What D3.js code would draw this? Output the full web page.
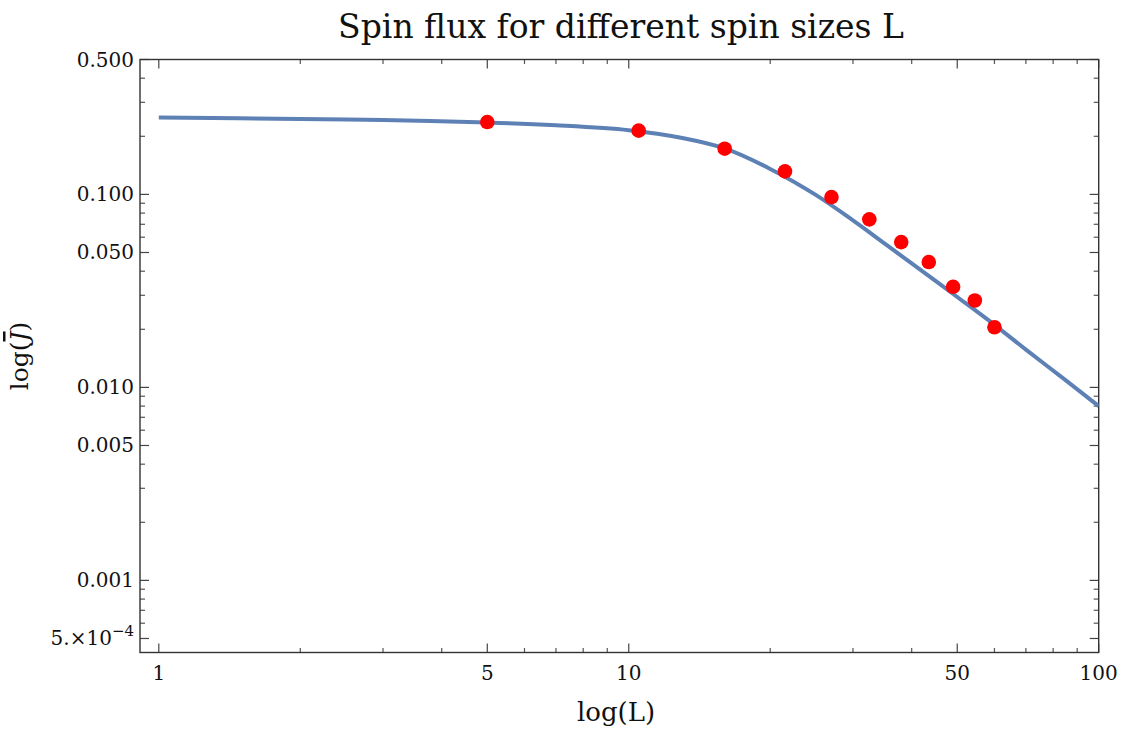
<!DOCTYPE html>
<html>
<head>
<meta charset="utf-8">
<script src="https://cdn.jsdelivr.net/npm/d3@7"></script>
<style>
  html, body { margin: 0; padding: 0; background: #fff; }
  svg { display: block; }
  text { font-family: "DejaVu Serif", serif; fill: #111; }
</style>
</head>
<body>
<svg id="chart" width="1124" height="733"></svg>
<script>
// Fitted flux curve J(L)
const curveL = [1, 2, 3, 5, 7, 10, 13, 16, 20, 25, 30, 35, 40, 50, 60, 70, 85, 100];
const curveJ = [0.250, 0.246, 0.243, 0.236, 0.228, 0.215, 0.196, 0.173, 0.1355, 0.0994,
                0.0733, 0.0557, 0.0439, 0.0294, 0.0211, 0.0157, 0.0109, 0.0080];

// Measured flux for each spin size
const pointL = [5, 10.5, 16, 21.5, 27, 32.5, 38, 43.5, 49, 54.5, 60];
const pointJ = [0.237, 0.214, 0.1725, 0.1316, 0.0968, 0.0742, 0.0566, 0.0446, 0.0332, 0.0282, 0.0205];

// Axis ticks
const xMajor = [1, 5, 10, 50, 100];
const xMajorLabels = ["1", "5", "10", "50", "100"];
const xMinor = [2, 3, 4, 6, 7, 8, 9, 20, 30, 40, 60, 70, 80, 90];
const yMajor = [0.5, 0.1, 0.05, 0.01, 0.005, 0.001, 0.0005];
const yMajorLabels = ["0.500", "0.100", "0.050", "0.010", "0.005", "0.001", "5.×10^−4"];
const yMinor = [0.4, 0.3, 0.2, 0.09, 0.08, 0.07, 0.06, 0.04, 0.03, 0.02,
                0.009, 0.008, 0.007, 0.006, 0.004, 0.003, 0.002,
                0.0009, 0.0008, 0.0007, 0.0006];

const titleText = "Spin flux for different spin sizes L";

const svg = d3.select("#chart");
const plotLeft = 140, plotRight = 1098.7, plotTop = 59.5, plotBottom = 652.5;

const x = d3.scaleLog().domain([0.912, 100]).range([plotLeft, plotRight]);
const y = d3.scaleLog().domain([4.23e-4, 0.5]).range([plotBottom, plotTop]);

// Title
svg.append("text")
  .attr("x", 621).attr("y", 38)
  .attr("text-anchor", "middle")
  .style("font-size", "33px")
  .text(titleText);

// Ticks on all four sides, pointing inward
const tickG = svg.append("g");
function xTicks(vals, len, color) {
  vals.forEach(v => {
    const px = x(v);
    tickG.append("line").attr("x1", px).attr("x2", px)
      .attr("y1", plotBottom).attr("y2", plotBottom - len)
      .attr("stroke", color).attr("stroke-width", 1.2);
    tickG.append("line").attr("x1", px).attr("x2", px)
      .attr("y1", plotTop).attr("y2", plotTop + len)
      .attr("stroke", color).attr("stroke-width", 1.2);
  });
}
function yTicks(vals, len, color) {
  vals.forEach(v => {
    const py = y(v);
    tickG.append("line").attr("x1", plotLeft).attr("x2", plotLeft + len)
      .attr("y1", py).attr("y2", py)
      .attr("stroke", color).attr("stroke-width", 1.2);
    tickG.append("line").attr("x1", plotRight).attr("x2", plotRight - len)
      .attr("y1", py).attr("y2", py)
      .attr("stroke", color).attr("stroke-width", 1.2);
  });
}
xTicks(xMajor, 9, "#444");
xTicks(xMinor, 4.5, "#555");
yTicks(yMajor, 9, "#444");
yTicks(yMinor, 5, "#555");

// Frame
svg.append("rect")
  .attr("x", plotLeft).attr("y", plotTop)
  .attr("width", plotRight - plotLeft).attr("height", plotBottom - plotTop)
  .attr("fill", "none").attr("stroke", "#333").attr("stroke-width", 1.4);

// X tick labels
svg.append("g").selectAll("text").data(xMajor).join("text")
  .attr("x", d => x(d)).attr("y", plotBottom + 27)
  .attr("text-anchor", "middle")
  .style("font-size", "20px")
  .text((d, i) => xMajorLabels[i]);

// Y tick labels (with superscript exponent where needed)
svg.append("g").selectAll("text").data(yMajor).join("text")
  .attr("x", plotLeft - 6).attr("y", d => y(d) + 7)
  .attr("text-anchor", "end")
  .style("font-size", "20px")
  .each(function (d, i) {
    const parts = yMajorLabels[i].split("^");
    const t = d3.select(this);
    t.append("tspan").text(parts[0]);
    if (parts[1]) {
      t.append("tspan").attr("dy", -9).style("font-size", "15px").text(parts[1]);
    }
  });

// Axis titles
svg.append("text")
  .attr("x", 616).attr("y", 721)
  .attr("text-anchor", "middle")
  .style("font-size", "26px")
  .text("log(L)");

const yl = svg.append("text")
  .attr("transform", "translate(28,356) rotate(-90)")
  .attr("text-anchor", "middle")
  .style("font-size", "25px");
yl.append("tspan").text("log(");
yl.append("tspan").style("font-style", "italic")
  .style("text-decoration", "overline").text("J");
yl.append("tspan").text(")");

// Clip for data marks
svg.append("clipPath").attr("id", "plotClip")
  .append("rect").attr("x", plotLeft).attr("y", plotTop)
  .attr("width", plotRight - plotLeft).attr("height", plotBottom - plotTop);

const plot = svg.append("g").attr("clip-path", "url(#plotClip)");

const line = d3.line()
  .x(d => x(d[0]))
  .y(d => y(d[1]))
  .curve(d3.curveCatmullRom.alpha(0.5));

plot.append("path")
  .datum(curveL.map((l, i) => [l, curveJ[i]]))
  .attr("d", line)
  .attr("fill", "none")
  .attr("stroke", "#5E81B5")
  .attr("stroke-width", 4);

plot.append("g").selectAll("circle")
  .data(pointL.map((l, i) => [l, pointJ[i]]))
  .join("circle")
  .attr("cx", d => x(d[0]))
  .attr("cy", d => y(d[1]))
  .attr("r", 7.3)
  .attr("fill", "#FF0000");
</script>
</body>
</html>
